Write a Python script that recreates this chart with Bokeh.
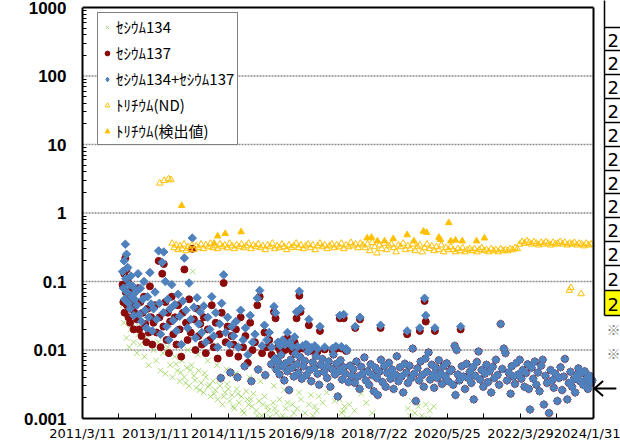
import numpy as np
from bokeh.plotting import figure
from bokeh.models import (FixedTicker, CustomJSTickFormatter, Legend, LegendItem,
                          Range1d, LinearScale, ColumnDataSource)
from bokeh.core.properties import value
from bokeh.embed import file_html
from bokeh.resources import INLINE
import pandas as pd

# ---------------- data (decimal years, Bq/L) ----------------
tick_labels = ["2011/3/11", "2013/1/11", "2014/11/15", "2016/9/18",
               "2018/7/22", "2020/5/25", "2022/3/29", "2024/1/31"]
y_major = [0.001, 0.01, 0.1, 1, 10, 100, 1000]

cs134_year = [2012.20, 2012.23, 2012.26, 2012.30, 2012.33, 2012.37, 2012.40, 2012.44, 2012.48, 2012.52,
              2012.56, 2012.60, 2012.64, 2012.70, 2012.75, 2012.80, 2012.86, 2012.92, 2012.98, 2013.05,
              2013.10, 2013.16, 2013.22, 2013.28, 2013.34, 2013.40, 2013.46, 2013.52, 2013.58, 2013.64,
              2013.70, 2013.76, 2013.82, 2013.88, 2013.94, 2013.97, 2014.00, 2014.06, 2014.12, 2014.18,
              2014.24, 2014.30, 2014.36, 2014.42, 2014.48, 2014.54, 2014.60, 2014.66, 2014.72, 2014.78,
              2014.84, 2014.90, 2014.96, 2015.02, 2015.08, 2015.14, 2015.20, 2015.26, 2015.32, 2015.38,
              2015.44, 2015.50, 2015.57, 2015.64, 2015.71, 2015.78, 2015.85, 2015.92, 2016.00, 2016.08,
              2016.16, 2016.24, 2016.32, 2016.40, 2016.48, 2016.60, 2016.70, 2016.80, 2016.90, 2017.00,
              2017.10, 2017.25, 2017.68, 2017.74, 2017.80, 2017.86, 2018.22, 2019.40, 2019.50, 2019.58,
              2019.66, 2019.75, 2019.85, 2019.95, 2020.05, 2014.93, 2015.30, 2016.30, 2019.80,
              2013.55, 2013.67, 2013.79, 2013.91, 2014.03, 2014.15, 2014.27, 2014.39, 2014.51, 2014.63,
              2014.75, 2014.87, 2014.99, 2015.11, 2015.23, 2015.35, 2015.47, 2015.60, 2015.74, 2015.88,
              2016.04, 2016.20, 2016.36, 2016.52, 2017.05, 2017.77, 2019.45, 2019.62, 2019.90,
              2013.60, 2013.85, 2014.10, 2014.35, 2014.58, 2014.82, 2015.05, 2015.40, 2015.68, 2016.02,
              2016.28, 2016.65, 2016.95, 2017.15, 2017.35, 2017.55, 2017.92, 2018.05, 2018.35, 2018.50]
cs134_val = [0.045, 0.025, 0.06, 0.015, 0.03, 0.011, 0.02, 0.04, 0.013, 0.022,
             0.009, 0.017, 0.012, 0.025, 0.008, 0.015, 0.006, 0.02, 0.01, 0.007,
             0.013, 0.005, 0.009, 0.0045, 0.011, 0.006, 0.004, 0.008, 0.005, 0.0035,
             0.007, 0.004, 0.0055, 0.003, 0.006, 0.14, 0.0042, 0.0028, 0.005, 0.0033,
             0.0024, 0.004, 0.0029, 0.0021, 0.0035, 0.0026, 0.0019, 0.003, 0.0016, 0.0024,
             0.0032, 0.0018, 0.0022, 0.0014, 0.0027, 0.0017, 0.0021, 0.0012, 0.0025, 0.0016,
             0.0019, 0.0023, 0.0013, 0.0018, 0.0011, 0.0021, 0.0015, 0.00105, 0.0017, 0.0012,
             0.0019, 0.0011, 0.0014, 0.001, 0.0016, 0.0014, 0.0019, 0.0012, 0.0016, 0.0011,
             0.0013, 0.0017, 0.0019, 0.0012, 0.0015, 0.001, 0.0023, 0.0014, 0.0018, 0.0012,
             0.0015, 0.0011, 0.0016, 0.0013, 0.0015, 0.0009, 0.00085, 0.0009, 0.0009,
             0.0062, 0.0047, 0.0033, 0.0051, 0.0036, 0.0026, 0.0046, 0.0031, 0.0023, 0.0036,
             0.0021, 0.0027, 0.0015, 0.0023, 0.0013, 0.0019, 0.0015, 0.0011, 0.0016, 0.0013,
             0.0014, 0.001, 0.0017, 0.0012, 0.0015, 0.0013, 0.0011, 0.0017, 0.001,
             0.012, 0.010, 0.0085, 0.007, 0.006, 0.0052, 0.0045, 0.004, 0.0035, 0.003,
             0.0026, 0.0024, 0.0022, 0.0021, 0.0024, 0.0018, 0.0016, 0.0013, 0.0017, 0.0012]

pair_year = [2012.20, 2012.22, 2012.24, 2012.25, 2012.27, 2012.28, 2012.30, 2012.31, 2012.33, 2012.35,
             2012.37, 2012.39, 2012.41, 2012.43, 2012.46, 2012.48, 2012.50, 2012.53, 2012.56, 2012.59,
             2012.62, 2012.65, 2012.68, 2012.71, 2012.74, 2012.77, 2012.80, 2012.83, 2012.86, 2012.89,
             2012.92, 2012.95, 2012.98, 2013.02, 2013.06, 2013.11, 2013.13, 2013.16, 2013.20, 2013.23,
             2013.24, 2013.28, 2013.31, 2013.34, 2013.37, 2013.40, 2013.44, 2013.48, 2013.52, 2013.56,
             2013.60, 2013.64, 2013.68, 2013.72, 2013.76, 2013.80, 2013.84, 2013.88, 2013.92, 2013.96,
             2014.00, 2014.04, 2014.08, 2014.12, 2014.16, 2014.20, 2014.25, 2014.30, 2014.35, 2014.40,
             2014.45, 2014.50, 2014.55, 2014.60, 2014.65, 2014.70, 2014.75, 2014.80, 2014.85, 2014.90,
             2014.95, 2015.00, 2015.06, 2015.12, 2015.18, 2015.24, 2015.30, 2015.36, 2015.42, 2015.48,
             2015.54, 2015.60, 2015.66, 2015.72, 2015.78, 2015.84, 2015.90, 2015.96, 2016.02, 2016.06,
             2016.12, 2016.18, 2016.24, 2016.30, 2016.36, 2016.42, 2016.48, 2016.54, 2016.59, 2016.62,
             2016.66, 2016.69, 2016.75, 2016.82, 2016.86, 2016.90, 2016.97, 2017.05, 2017.12, 2017.18,
             2017.30, 2017.50, 2017.58, 2017.68, 2017.72, 2017.78, 2017.84, 2018.07, 2018.19, 2018.71,
             2019.38, 2019.70, 2019.82, 2019.85, 2020.08, 2020.73]
pair_cs137 = [0.09, 0.05, 0.13, 0.035, 0.22, 0.07, 0.15, 0.045, 0.10, 0.03,
              0.06, 0.025, 0.075, 0.04, 0.055, 0.02, 0.035, 0.045, 0.028, 0.08,
              0.02, 0.05, 0.016, 0.035, 0.06, 0.024, 0.013, 0.04, 0.018, 0.085,
              0.03, 0.012, 0.025, 0.045, 0.018, 0.20, 0.03, 0.011, 0.13, 0.022,
              0.18, 0.05, 0.014, 0.035, 0.009, 0.026, 0.06, 0.017, 0.03, 0.012,
              0.045, 0.02, 0.008, 0.035, 0.15, 0.025, 0.014, 0.055, 0.018, 0.30,
              0.028, 0.010, 0.04, 0.016, 0.024, 0.012, 0.03, 0.009, 0.02, 0.014,
              0.045, 0.011, 0.025, 0.0075, 0.017, 0.035, 0.095, 0.013, 0.022, 0.009,
              0.016, 0.012, 0.02, 0.008, 0.03, 0.011, 0.016, 0.0065, 0.025, 0.01,
              0.013, 0.045, 0.06, 0.009, 0.018, 0.011, 0.014, 0.0085, 0.036, 0.029,
              0.011, 0.0095, 0.012, 0.010, 0.015, 0.011, 0.0095, 0.013, 0.029, 0.0102,
              0.062, 0.036, 0.0105, 0.011, 0.0108, 0.023, 0.0098, 0.0105, 0.0095, 0.019,
              0.0102, 0.0098, 0.0104, 0.029, 0.0105, 0.029, 0.0097, 0.021, 0.028, 0.021,
              0.017, 0.019, 0.052, 0.026, 0.019, 0.020]
pair_sum = [0.14, 0.08, 0.20, 0.055, 0.35, 0.11, 0.25, 0.07, 0.16, 0.048,
            0.09, 0.04, 0.12, 0.06, 0.085, 0.032, 0.055, 0.07, 0.045, 0.13,
            0.033, 0.08, 0.026, 0.055, 0.10, 0.038, 0.021, 0.06, 0.03, 0.135,
            0.047, 0.019, 0.04, 0.07, 0.028, 0.28, 0.048, 0.017, 0.19, 0.035,
            0.27, 0.10, 0.022, 0.055, 0.014, 0.04, 0.09, 0.027, 0.046, 0.019,
            0.065, 0.031, 0.012, 0.052, 0.22, 0.038, 0.021, 0.095, 0.028, 0.43,
            0.042, 0.015, 0.058, 0.024, 0.036, 0.018, 0.044, 0.013, 0.03, 0.02,
            0.06, 0.016, 0.035, 0.011, 0.024, 0.048, 0.125, 0.018, 0.03, 0.012,
            0.022, 0.016, 0.026, 0.011, 0.038, 0.014, 0.021, 0.0085, 0.032, 0.013,
            0.017, 0.057, 0.074, 0.0115, 0.023, 0.014, 0.018, 0.011, 0.043, 0.035,
            0.013, 0.0115, 0.014, 0.012, 0.018, 0.013, 0.0112, 0.0155, 0.036, 0.0112,
            0.072, 0.040, 0.0115, 0.012, 0.0118, 0.028, 0.0108, 0.0115, 0.0104, 0.022,
            0.011, 0.0106, 0.0113, 0.032, 0.0112, 0.033, 0.0105, 0.022, 0.030, 0.023,
            0.019, 0.021, 0.057, 0.032, 0.021, 0.022]

# Cs-134 not detected: sum equals Cs-137
late_year = [2014.68, 2014.92, 2015.10, 2015.28, 2015.45, 2015.62, 2015.80, 2015.95,
             2016.04, 2016.08, 2016.12, 2016.16, 2016.20, 2016.24, 2016.28, 2016.32, 2016.36, 2016.40,
             2016.44, 2016.48, 2016.52, 2016.56, 2016.60, 2016.64, 2016.68, 2016.72, 2016.76, 2016.80,
             2016.84, 2016.88, 2016.92, 2016.96, 2017.00, 2017.04, 2017.08, 2017.12, 2017.16, 2017.20,
             2017.24, 2017.28, 2017.32, 2017.36, 2017.40, 2017.44, 2017.48, 2017.52, 2017.56, 2017.60,
             2017.63, 2017.66, 2017.70, 2017.74, 2017.78, 2017.82, 2017.86, 2017.90, 2017.94, 2017.98,
             2018.02, 2018.06, 2018.10, 2018.14, 2018.18, 2018.22, 2018.26, 2018.30, 2018.34, 2018.38,
             2018.42, 2018.46, 2018.50, 2018.54, 2018.58, 2018.62, 2018.64, 2018.68, 2018.72, 2018.76,
             2018.80, 2018.84, 2018.88, 2018.92, 2018.96, 2019.00, 2019.04, 2019.08, 2019.12, 2019.16,
             2019.20, 2019.24, 2019.28, 2019.32, 2019.36, 2019.40, 2019.44, 2019.48, 2019.52, 2019.56,
             2019.60, 2019.64, 2019.68, 2019.72, 2019.76, 2019.80, 2019.84, 2019.88, 2019.92, 2019.96,
             2020.00, 2020.04, 2020.06, 2020.10, 2020.14, 2020.18, 2020.22, 2020.26, 2020.30, 2020.34,
             2020.38, 2020.42, 2020.46, 2020.50, 2020.54, 2020.58, 2020.60, 2020.63, 2020.66, 2020.70,
             2020.76, 2020.80, 2020.84, 2020.88, 2020.92, 2020.96, 2021.00, 2021.04, 2021.06, 2021.10,
             2021.14, 2021.18, 2021.22, 2021.26, 2021.30, 2021.34, 2021.38, 2021.42, 2021.46, 2021.50,
             2021.54, 2021.58, 2021.62, 2021.66, 2021.70, 2021.74, 2021.78, 2021.82, 2021.86, 2021.90,
             2021.94, 2021.99, 2022.02, 2022.06, 2022.10, 2022.14, 2022.18, 2022.22, 2022.26, 2022.30,
             2022.34, 2022.38, 2022.42, 2022.45, 2022.48, 2022.52, 2022.56, 2022.60, 2022.64, 2022.68,
             2022.72, 2022.76, 2022.80, 2022.83, 2022.87, 2022.91, 2022.96, 2023.00, 2023.04, 2023.08,
             2023.12, 2023.17, 2023.21, 2023.25, 2023.29, 2023.33, 2023.36, 2023.42, 2023.46, 2023.50,
             2023.54, 2023.58, 2023.62, 2023.66, 2023.70, 2023.74, 2023.78, 2023.82, 2023.86, 2023.90,
             2023.94, 2023.98, 2024.02, 2024.05]
late_val = [0.0039, 0.0047, 0.004, 0.0058, 0.0035, 0.0052, 0.0043, 0.0062,
            0.0075, 0.0052, 0.0068, 0.0044, 0.0085, 0.0058, 0.0036, 0.0064, 0.0049, 0.0026,
            0.0072, 0.0055, 0.0041, 0.0088, 0.0062, 0.0047, 0.0079, 0.0038, 0.0058, 0.0069,
            0.0043, 0.0095, 0.0051, 0.0035, 0.0066, 0.0054, 0.0082, 0.0045, 0.0031, 0.0061,
            0.0074, 0.0048, 0.0057, 0.0039, 0.0068, 0.0029, 0.0053, 0.0086, 0.0044, 0.0063,
            0.0021, 0.0049, 0.0071, 0.0037, 0.0056, 0.0045, 0.0098, 0.0034, 0.0059, 0.0042,
            0.0052, 0.0033, 0.0068, 0.0041, 0.0027, 0.0057, 0.0045, 0.0078, 0.0036, 0.0049,
            0.0031, 0.0062, 0.0043, 0.0025, 0.0055, 0.0039, 0.0022, 0.0048, 0.0072, 0.0034,
            0.0058, 0.0029, 0.0046, 0.0065, 0.0038, 0.0052, 0.0027, 0.0044, 0.0081, 0.0035,
            0.0056, 0.0041, 0.0024, 0.0063, 0.0047, 0.0033, 0.0059, 0.0039, 0.0105, 0.0045,
            0.0018, 0.0054, 0.0036, 0.0068, 0.0043, 0.0029, 0.0075, 0.0048, 0.0092, 0.0037,
            0.0061, 0.0044, 0.0028, 0.0055, 0.0039, 0.0071, 0.0046, 0.0032, 0.0058, 0.0041,
            0.0064, 0.0035, 0.0049, 0.0052, 0.0031, 0.0115, 0.0022, 0.010, 0.0044, 0.0036,
            0.0058, 0.0041, 0.0027, 0.0063, 0.0039, 0.0048, 0.0033, 0.0056, 0.0019, 0.0042,
            0.0067, 0.0095, 0.0037, 0.0051, 0.0029, 0.0045, 0.0061, 0.0034, 0.0049, 0.0024,
            0.0057, 0.0039, 0.0072, 0.0043, 0.0031, 0.024, 0.0053, 0.0105, 0.009, 0.0036,
            0.0047, 0.0023, 0.0058, 0.0041, 0.0032, 0.0065, 0.0044, 0.0072, 0.0038, 0.0051,
            0.0029, 0.0046, 0.0062, 0.0027, 0.00135, 0.0055, 0.0038, 0.0068, 0.0031, 0.0047,
            0.0025, 0.0059, 0.0072, 0.0016, 0.0042, 0.0033, 0.0012, 0.0051, 0.0036, 0.0028,
            0.0045, 0.0018, 0.0039, 0.0056, 0.0026, 0.0041, 0.0074, 0.0019, 0.0033, 0.0048,
            0.0029, 0.0037, 0.0024, 0.0043, 0.0054, 0.0035, 0.0046, 0.0031, 0.0049, 0.0038,
            0.0027, 0.0042, 0.0033, 0.0036]

h3nd_year = [2013.14, 2013.25, 2013.36, 2013.42,
             2013.45, 2013.50, 2013.55, 2013.60, 2013.65, 2013.70, 2013.75, 2013.80, 2013.85, 2013.90,
             2013.95, 2014.00, 2014.06, 2014.12, 2014.18, 2014.24, 2014.30, 2014.36, 2014.42, 2014.48,
             2014.54, 2014.60, 2014.66, 2014.72, 2014.78, 2014.84, 2014.90, 2014.96, 2015.02, 2015.08,
             2015.14, 2015.20, 2015.26, 2015.32, 2015.38, 2015.44, 2015.50, 2015.56, 2015.62, 2015.68,
             2015.74, 2015.80, 2015.86, 2015.92, 2015.98, 2016.04, 2016.10, 2016.16, 2016.22, 2016.28,
             2016.34, 2016.40, 2016.46, 2016.52, 2016.58, 2016.64, 2016.70, 2016.76, 2016.82, 2016.88,
             2016.94, 2017.00, 2017.06, 2017.12, 2017.18, 2017.24, 2017.30, 2017.36, 2017.42, 2017.48,
             2017.54, 2017.60, 2017.66, 2017.72, 2017.78, 2017.84, 2017.90, 2017.96, 2018.02, 2018.08,
             2018.14, 2018.20, 2018.26, 2018.32, 2018.38, 2018.44, 2018.50, 2018.56, 2018.62, 2018.68,
             2018.74, 2018.80, 2018.86, 2018.92, 2018.98, 2019.04, 2019.10, 2019.16, 2019.22, 2019.28,
             2019.34, 2019.40, 2019.46, 2019.52, 2019.58, 2019.64, 2019.70, 2019.76, 2019.82, 2019.88,
             2019.94, 2020.00, 2020.06, 2020.12, 2020.18, 2020.24, 2020.30, 2020.36, 2020.42, 2020.48,
             2020.54, 2020.60, 2020.66, 2020.72, 2020.78, 2020.84, 2020.90, 2020.96, 2021.02, 2021.08,
             2021.14, 2021.20, 2021.26, 2021.32, 2021.38, 2021.44, 2021.50, 2021.56, 2021.62, 2021.68,
             2021.74, 2021.80, 2021.86, 2021.92, 2021.98, 2022.04, 2022.10, 2022.16, 2022.22, 2022.28,
             2022.34, 2022.40, 2022.46, 2022.52, 2022.58, 2022.64, 2022.70, 2022.76, 2022.82, 2022.88,
             2022.94, 2023.00, 2023.06, 2023.12, 2023.18, 2023.24, 2023.30, 2023.36, 2023.42, 2023.48,
             2023.54, 2023.60, 2023.66, 2023.72, 2023.78, 2023.84, 2023.90, 2023.96, 2024.02,
             2023.47, 2023.51, 2023.77]
h3nd_val = [2.72, 2.98, 3.15, 3.05,
            0.36, 0.31, 0.34, 0.29, 0.33, 0.30, 0.35, 0.28, 0.32, 0.30,
            0.34, 0.29, 0.33, 0.31, 0.35, 0.30, 0.34, 0.32, 0.36, 0.31,
            0.33, 0.30, 0.35, 0.32, 0.34, 0.31, 0.36, 0.33, 0.30, 0.34,
            0.32, 0.35, 0.31, 0.33, 0.36, 0.30, 0.34, 0.32, 0.35, 0.31,
            0.33, 0.29, 0.34, 0.32, 0.36, 0.30, 0.33, 0.31, 0.35, 0.32,
            0.29, 0.34, 0.31, 0.33, 0.36, 0.31, 0.34, 0.30, 0.33, 0.35,
            0.31, 0.34, 0.29, 0.33, 0.36, 0.32, 0.34, 0.30, 0.33, 0.35,
            0.31, 0.34, 0.32, 0.36, 0.30, 0.34, 0.32, 0.37, 0.33, 0.35,
            0.31, 0.36, 0.34, 0.31, 0.35, 0.28, 0.37, 0.32, 0.26, 0.34,
            0.30, 0.36, 0.29, 0.33, 0.35, 0.31, 0.27, 0.34, 0.32, 0.36,
            0.29, 0.33, 0.30, 0.35, 0.28, 0.32, 0.34, 0.27, 0.31, 0.35,
            0.30, 0.33, 0.28, 0.32, 0.29, 0.34, 0.27, 0.31, 0.29, 0.32,
            0.29, 0.27, 0.30, 0.28, 0.31, 0.27, 0.29, 0.30, 0.28, 0.30,
            0.27, 0.29, 0.31, 0.28, 0.29, 0.27, 0.30, 0.28, 0.29, 0.27,
            0.30, 0.28, 0.29, 0.28, 0.30, 0.29, 0.31, 0.30, 0.35, 0.38,
            0.36, 0.39, 0.37, 0.35, 0.38, 0.36, 0.34, 0.37, 0.35, 0.38,
            0.36, 0.34, 0.37, 0.35, 0.36, 0.38, 0.35, 0.37, 0.34, 0.36,
            0.35, 0.37, 0.34, 0.36, 0.35, 0.33, 0.36, 0.34, 0.35,
            0.074, 0.081, 0.066]

h3det_year = [2013.69, 2014.51, 2014.60, 2014.79, 2015.19, 2018.37, 2018.48, 2018.63, 2018.81, 2019.03,
              2019.38, 2019.55, 2019.79, 2019.87, 2020.18, 2020.22, 2020.43, 2020.48, 2020.60, 2020.77,
              2021.13, 2021.33]
h3det_val = [1.28, 0.36, 0.46, 0.50, 0.53, 0.43, 0.44, 0.39, 0.39, 0.42,
             0.48, 0.39, 0.54, 0.52, 0.44, 0.41, 0.72, 0.39, 0.40, 0.39,
             0.39, 0.43]

legend_labels = ["ｾｼｳﾑ134", "ｾｼｳﾑ137", "ｾｼｳﾑ134+ｾｼｳﾑ137", "ﾄﾘﾁｳﾑ(ND)", "ﾄﾘﾁｳﾑ(検出値)"]

# fragment of the neighbouring table on the page (cut off at the right edge)
table_cells = ["2"] * 12
notes = ["※", "※"]

# ---------------- conversions ----------------
ORIGIN = pd.Timestamp("2011-03-11")
ORIGIN_YEAR = 2011 + 69 / 365.0


def days(years):
    return [(y - ORIGIN_YEAR) * 365.25 for y in years]


tick_days = [int((pd.Timestamp(s.replace("/", "-")) - ORIGIN).days) for s in tick_labels]
minor_days = [(a + b) / 2 for a, b in zip(tick_days[:-1], tick_days[1:])]
X_END = tick_days[-1]

# ---------------- geometry (page pixels) ----------------
W, H = 620, 444
PL, PR, PT, PB = 82, 593, 7, 418            # plot box
FRAME_W = W - PL                             # frame runs to the right page edge
x_hi = X_END * FRAME_W / (PR - PL)
dec_px = (PB - PT) / 6.0
y_hi = 1000 * 10 ** (PT / dec_px)

p = figure(width=W, height=H, output_backend="svg", toolbar_location=None, title=None,
           x_range=Range1d(0, x_hi), y_range=Range1d(0.001, y_hi), y_axis_type="log",
           min_border_left=PL, min_border_right=0, min_border_top=0, min_border_bottom=H - PB)
p.background_fill_color = "white"
p.border_fill_color = "white"
p.outline_line_color = None
p.xgrid.visible = False
p.ygrid.visible = False

y_minor = [k * m for m in y_major[:-1] for k in range(2, 10)]
p.yaxis.ticker = FixedTicker(ticks=y_major, minor_ticks=y_minor)
p.yaxis.bounds = (y_major[0], y_major[-1])
p.yaxis.formatter = CustomJSTickFormatter(code="""
const e = Math.round(Math.log10(tick));
return e >= 0 ? String(Math.pow(10, e)) : Math.pow(10, e).toFixed(-e);
""")
p.yaxis.major_label_text_font = "Liberation Sans"
p.yaxis.major_label_text_font_style = "bold"
p.yaxis.major_label_text_font_size = "17px"
p.yaxis.major_label_text_color = "black"
p.yaxis.major_label_standoff = 16
p.yaxis.major_tick_in = 0
p.yaxis.major_tick_out = 0
p.yaxis.minor_tick_in = 4
p.yaxis.minor_tick_out = 0
p.yaxis.axis_line_width = 2
p.yaxis.axis_line_color = "black"

p.xaxis.ticker = FixedTicker(ticks=tick_days, minor_ticks=minor_days)
p.xaxis.bounds = (0, X_END)
p.xaxis.major_label_overrides = {d: s for d, s in zip(tick_days, tick_labels)}
p.xaxis.major_label_text_font = "DejaVu Sans"
p.xaxis.major_label_text_font_size = "13px"
p.xaxis.major_label_text_color = "black"
p.xaxis.major_label_standoff = 7
p.xaxis.major_tick_in = 5
p.xaxis.major_tick_out = 0
p.xaxis.minor_tick_in = 5
p.xaxis.minor_tick_out = 0
p.xaxis.axis_line_width = 2
p.xaxis.axis_line_color = "black"

# dotted horizontal gridlines
grid_vals = y_major[1:-1]
p.segment(x0=[0] * len(grid_vals), y0=grid_vals, x1=[X_END] * len(grid_vals), y1=grid_vals,
          line_color="#8c8c8c", line_width=1.5, line_dash="2 1")

# ---------------- series ----------------
src134 = ColumnDataSource(dict(x=days(cs134_year), y=cs134_val))
src137 = ColumnDataSource(dict(x=days(pair_year + late_year), y=pair_cs137 + late_val))
srcsum = ColumnDataSource(dict(x=days(pair_year + late_year), y=pair_sum + late_val))
srcnd = ColumnDataSource(dict(x=days(h3nd_year), y=h3nd_val))
srcdet = ColumnDataSource(dict(x=days(h3det_year), y=h3det_val))

r134 = p.scatter("x", "y", source=src134, marker="x", size=8, line_color="#92D050",
                 line_alpha=0.75, line_width=1)
r137 = p.scatter("x", "y", source=src137, marker="circle", size=7, fill_color="#8B0A0A",
                 line_color="#8B0A0A")
rsum = p.scatter("x", "y", source=srcsum, marker="square", angle=np.pi / 4, size=6,
                 fill_color="#4F81BD", line_color="#4F81BD")
rnd = p.scatter("x", "y", source=srcnd, marker="triangle", size=6.5, fill_alpha=0,
                line_color="#FFC000", line_width=1)
rdet = p.scatter("x", "y", source=srcdet, marker="triangle", size=6.5, fill_color="#FFC000",
                 line_color="#FFC000")
# legend-only swatch for the diamond marker (its single point lies off the plotted range)
rsum_key = p.scatter(x=[-10 * X_END], y=[1], marker="diamond", size=9, fill_color="#4F81BD",
                     line_color="#4F81BD")

# top and right sides of the plot box
p.segment(x0=[0, X_END], y0=[y_major[-1], y_major[0]], x1=[X_END, X_END],
          y1=[y_major[-1], y_major[-1]], line_color="black", line_width=2)

legend = Legend(items=[LegendItem(label=legend_labels[0], renderers=[r134]),
                       LegendItem(label=legend_labels[1], renderers=[r137]),
                       LegendItem(label=legend_labels[2], renderers=[rsum_key]),
                       LegendItem(label=legend_labels[3], renderers=[rnd]),
                       LegendItem(label=legend_labels[4], renderers=[rdet])],
                location=(15, 273))
legend.label_text_font = "Noto Sans CJK JP"
legend.label_text_font_size = "15px"
legend.label_text_color = "black"
legend.glyph_width = 12
legend.glyph_height = 20
legend.label_height = 20
legend.label_standoff = 3
legend.spacing = 5
legend.padding = 3
legend.margin = 0
legend.border_line_color = "black"
legend.border_line_width = 1
legend.background_fill_color = "white"
legend.background_fill_alpha = 1
p.add_layout(legend)

# ---------------- right strip in page-pixel coordinates ----------------
p.extra_x_ranges = {"px": Range1d(PL, W)}
p.extra_y_ranges = {"py": Range1d(PB, 0)}
p.extra_x_scales = {"px": LinearScale()}
p.extra_y_scales = {"py": LinearScale()}
kw = dict(x_range_name="px", y_range_name="py")

row_lines = [27, 50, 74, 98, 122, 146, 170, 193, 217, 241, 265, 290, 315]
p.quad(left=[604], right=[622], top=[row_lines[-2]], bottom=[row_lines[-1]],
       fill_color="#FFFF00", line_color=None, **kw)
p.segment(x0=[604], y0=[-2], x1=[604], y1=[row_lines[-1]], line_color="black",
          line_width=1.5, **kw)
p.segment(x0=[604] * len(row_lines), y0=row_lines, x1=[622] * len(row_lines), y1=row_lines,
          line_color="black", line_width=1.5, **kw)
p.text(x=[607] * len(table_cells),
       y=[(a + b) / 2 + 1 for a, b in zip(row_lines[:-1], row_lines[1:])],
       text=table_cells, text_font=value("DejaVu Sans"), text_font_size="18px",
       text_baseline="middle", text_align="left", text_color="black", **kw)
p.text(x=[606, 606], y=[328, 352], text=notes, text_font=value("Noto Sans CJK JP"),
       text_font_size="14px", text_baseline="middle", text_align="left",
       text_color="#808080", **kw)
# arrow pointing at the latest value
p.segment(x0=[596, 594, 594], y0=[388, 388, 388], x1=[615, 602, 602], y1=[388, 381, 395],
          line_color="black", line_width=2, line_cap="round", **kw)

open("out.html", "w").write(file_html(p, INLINE))
